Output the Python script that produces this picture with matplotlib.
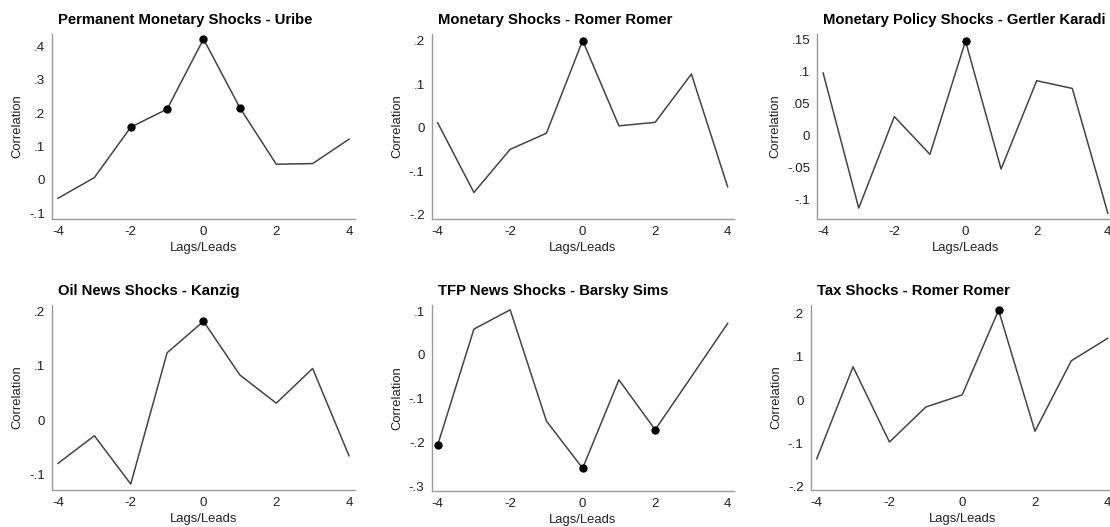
import matplotlib.pyplot as plt
from matplotlib.ticker import FuncFormatter

plt.rcParams['font.family'] = ['Liberation Sans', 'DejaVu Sans']
plt.rcParams['axes.unicode_minus'] = False

lags = [-4, -3, -2, -1, 0, 1, 2, 3, 4]

titles = [
    'Permanent Monetary Shocks - Uribe',
    'Monetary Shocks - Romer Romer',
    'Monetary Policy Shocks - Gertler Karadi',
    'Oil News Shocks - Kanzig',
    'TFP News Shocks - Barsky Sims',
    'Tax Shocks - Romer Romer',
]

uribe = [-0.055, 0.007, 0.158, 0.212, 0.422, 0.216, 0.047, 0.049, 0.122]
romer_monetary = [0.011, -0.149, -0.050, -0.013, 0.200, 0.004, 0.012, 0.123, -0.136]
gertler_karadi = [0.098, -0.113, 0.030, -0.029, 0.148, -0.052, 0.086, 0.074, -0.121]
kanzig = [-0.080, -0.029, -0.118, 0.124, 0.182, 0.083, 0.031, 0.095, -0.066]
barsky_sims = [-0.206, 0.059, 0.103, -0.151, -0.259, -0.057, -0.171, -0.050, 0.072]
romer_tax = [-0.136, 0.077, -0.097, -0.016, 0.012, 0.208, -0.072, 0.091, 0.143]
series = [uribe, romer_monetary, gertler_karadi, kanzig, barsky_sims, romer_tax]

# lags where the correlation is significant
significant = [[-2, -1, 0, 1], [0], [0], [0], [-4, 0, 2], [1]]

y_ticks = [
    [-0.1, 0, 0.1, 0.2, 0.3, 0.4],
    [-0.2, -0.1, 0, 0.1, 0.2],
    [-0.1, -0.05, 0, 0.05, 0.1, 0.15],
    [-0.1, 0, 0.1, 0.2],
    [-0.3, -0.2, -0.1, 0, 0.1],
    [-0.2, -0.1, 0, 0.1, 0.2],
]
y_limits = [(-0.117, 0.437), (-0.210, 0.215), (-0.130, 0.159),
            (-0.129, 0.212), (-0.311, 0.114), (-0.208, 0.220)]

# axes boxes in pixels: left, top, width, height
W, H = 1110, 527
boxes = [
    (51.8, 34, 303.4, 185), (431.5, 34, 302.3, 185), (817.1, 34, 296.8, 185),
    (51.8, 305, 303.4, 185), (431.5, 305, 302.3, 186), (810.5, 305, 303.4, 185),
]


def short_fmt(v, pos):
    if abs(v) < 1e-9:
        return '0'
    s = f'{v:g}'
    return s.replace('0.', '.')


fig = plt.figure(figsize=(W / 100, H / 100), dpi=100)

for i in range(6):
    l, t, w, h = boxes[i]
    ax = fig.add_axes([l / W, (H - t - h) / H, w / W, h / H])
    ax.plot(lags, series[i], color='#444444', lw=1.1, zorder=2)
    sig_y = [series[i][lags.index(k)] for k in significant[i]]
    ax.plot(significant[i], sig_y, 'o', color='black', ms=5, zorder=3, clip_on=False)

    ax.set_xlim(-4.17, 4.17)
    ax.set_ylim(*y_limits[i])
    ax.set_xticks([-4, -2, 0, 2, 4])
    ax.set_yticks(y_ticks[i])
    ax.yaxis.set_major_formatter(FuncFormatter(short_fmt))
    ax.tick_params(length=0, labelsize=9.6, colors='#222222', pad=5)

    for side in ['top', 'right']:
        ax.spines[side].set_visible(False)
    for side in ['left', 'bottom']:
        ax.spines[side].set_color('#999999')
        ax.spines[side].set_linewidth(1.0)

    ax.set_xlabel('Lags/Leads', fontsize=9.4, color='#222222', labelpad=3)
    ax.set_ylabel('Correlation', fontsize=9.4, color='#222222', labelpad=4)
    ax.set_title(titles[i], loc='left', x=0.02, fontsize=10.7,
                 fontweight='bold', pad=7)

fig.savefig('out.png', dpi=100, facecolor='white')
